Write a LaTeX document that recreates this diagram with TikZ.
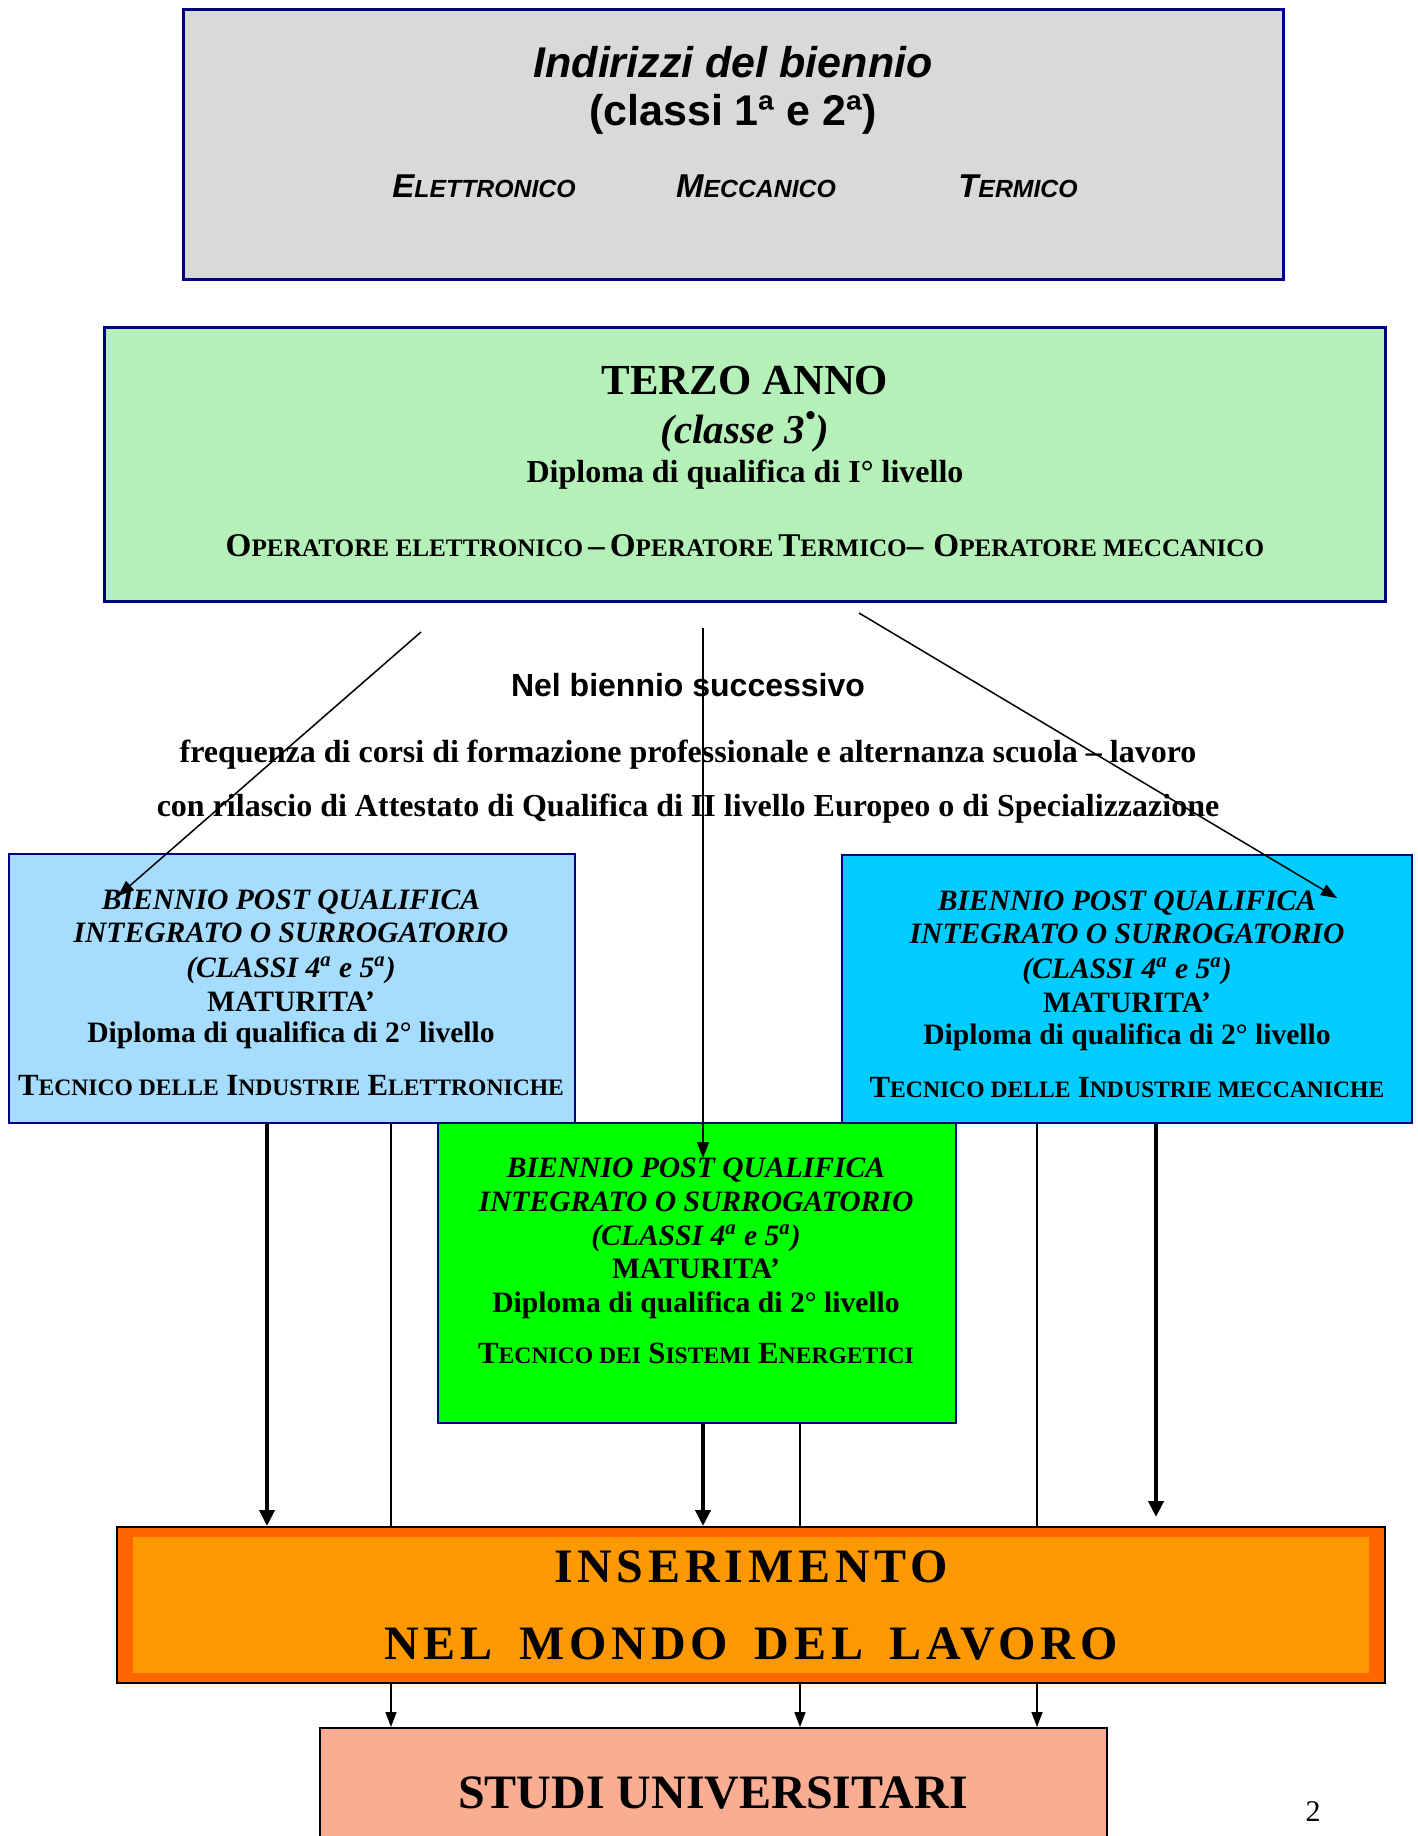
\documentclass[tikz,border=0pt]{standalone}
\usepackage{fontspec}
\setmainfont{Liberation Serif}
\newfontfamily\arialf{Liberation Sans}
\usetikzlibrary{arrows.meta,fit}
\definecolor{navy}{RGB}{0,0,128}
\definecolor{grayfill}{RGB}{217,217,217}
\definecolor{terzofill}{RGB}{181,240,185}
\definecolor{lbfill}{RGB}{166,221,255}
\definecolor{rbfill}{RGB}{0,204,255}
\definecolor{cbfill}{RGB}{0,255,0}
\definecolor{orout}{RGB}{255,102,0}
\definecolor{orin}{RGB}{252,153,0}
\definecolor{salmonf}{RGB}{251,173,145}
\newcommand\fs[1]{\fontsize{#1}{#1}\selectfont}
\newcommand\scB[1]{{\fs{\scbigsz}#1}}
\newcommand\scS[1]{{\fs{\scsmlsz}#1}}
\def\scbigsz{15pt}
\def\scsmlsz{11.5pt}
\begin{document}
\begin{tikzpicture}[x=0.5pt,y=-0.5pt,
  box/.style={draw=navy, line width=1pt, inner sep=0pt},
  txt/.style={anchor=base, inner sep=0pt},
  boxtxt/.style={txt, font=\fs{14.8pt}\bfseries},
  boxit/.style={txt, font=\fs{14.8pt}\bfseries\itshape},
  thickarrow/.style={line width=2.2pt, -{Triangle[length=8pt,width=7.5pt]}},
  thinarrow/.style={line width=0.75pt, -{Triangle[length=7.5pt,width=5.5pt]}},
  diagarrow/.style={line width=0.75pt, -{Triangle[length=8pt,width=6pt]}}]
\path[use as bounding box] (0,0) rectangle (1418,1836);
\clip (0,0) rectangle (1418,1836);

% boxes
\node[box, line width=1.5pt, fill=grayfill, fit={(183,9)(1283,279)}] (top) {};
\node[box, line width=1.5pt, fill=terzofill, fit={(104,327)(1385,601)}] (terzo) {};
\node[box, fill=lbfill, fit={(9,854)(575,1123)}] (lbox) {};
\node[box, fill=rbfill, fit={(842,855)(1412,1123)}] (rbox) {};
\node[box, fill=cbfill, fit={(438,1123)(956,1423)}] (cbox) {};
\node[draw=black, line width=1pt, fill=salmonf, inner sep=0pt, fit={(320,1728)(1107,1900)}] (studi) {};

% top texts
\node[txt, font=\arialf\fs{21.5pt}\bfseries\itshape] (t1) at (733,77) {Indirizzi del biennio};
\node[txt, font=\arialf\fs{21.5pt}\bfseries] (t2) at (733,125) {(classi 1ª e 2ª)};
\def\scbigsz{16.5pt}\def\scsmlsz{12.4pt}
\node[txt, font=\arialf\bfseries\itshape] (el) at (484,197) {\scB{E}\scS{LETTRONICO}};
\node[txt, font=\arialf\bfseries\itshape] (me) at (756,197) {\scB{M}\scS{ECCANICO}};
\node[txt, font=\arialf\bfseries\itshape] (te) at (1018,197) {\scB{T}\scS{ERMICO}};

% terzo texts
\node[txt, font=\fs{21.4pt}\bfseries] (ta) at (745,394) {TERZO ANNO};
\node[txt, font=\fs{20.5pt}\bfseries\itshape] (tc) at (745,443) {(classe 3\raisebox{0.42em}{\fs{15pt}•})};
\node[txt, font=\fs{16pt}\bfseries] (td) at (745,482) {Diploma di qualifica di I° livello};
\def\scbigsz{16.6pt}\def\scsmlsz{12.6pt}
\node[txt, font=\bfseries] (top2) at (745,556) {\scB{O}\scS{PERATORE ELETTRONICO} \scB{–} \scB{O}\scS{PERATORE} \scB{T}\scS{ERMICO}\scB{–}\ \ \scB{O}\scS{PERATORE MECCANICO}};

% middle texts
\node[txt, font=\arialf\fs{16pt}\bfseries] (m1) at (688,696) {Nel biennio successivo};
\node[txt, font=\fs{16pt}\bfseries] (m2) at (688,762) {frequenza di corsi di formazione professionale e alternanza scuola – lavoro};
\node[txt, font=\fs{16pt}\bfseries] (m3) at (688,816) {con rilascio di Attestato di Qualifica di II livello Europeo o di Specializzazione};

% left box texts
\def\scbigsz{15.4pt}\def\scsmlsz{11.8pt}
\node[boxit] (l1) at (291,909) {BIENNIO POST QUALIFICA};
\node[boxit] (l2) at (291,942) {INTEGRATO O SURROGATORIO};
\node[boxit] (l3) at (291,977) {(CLASSI 4\textsuperscript{a} e 5\textsuperscript{a})};
\node[boxtxt] (l4) at (291,1011) {MATURITA’};
\node[boxtxt] (l5) at (291,1042) {Diploma di qualifica di 2° livello};
\node[boxtxt] (l6) at (291,1095) {\scB{T}\scS{ECNICO DELLE} \scB{I}\scS{NDUSTRIE} \scB{E}\scS{LETTRONICHE}};

% right box texts
\node[boxit] (r1) at (1127,910) {BIENNIO POST QUALIFICA};
\node[boxit] (r2) at (1127,943) {INTEGRATO O SURROGATORIO};
\node[boxit] (r3) at (1127,978) {(CLASSI 4\textsuperscript{a} e 5\textsuperscript{a})};
\node[boxtxt] (r4) at (1127,1012) {MATURITA’};
\node[boxtxt] (r5) at (1127,1044) {Diploma di qualifica di 2° livello};
\node[boxtxt] (r6) at (1127,1097) {\scB{T}\scS{ECNICO DELLE} \scB{I}\scS{NDUSTRIE MECCANICHE}};

% center box texts
\node[boxit] (c1) at (696,1177) {BIENNIO POST QUALIFICA};
\node[boxit] (c2) at (696,1211) {INTEGRATO O SURROGATORIO};
\node[boxit] (c3) at (696,1245) {(CLASSI 4\textsuperscript{a} e 5\textsuperscript{a})};
\node[boxtxt] (c4) at (696,1278) {MATURITA’};
\node[boxtxt] (c5) at (696,1312) {Diploma di qualifica di 2° livello};
\node[boxtxt] (c6) at (696,1363) {\scB{T}\scS{ECNICO DEI} \scB{S}\scS{ISTEMI} \scB{E}\scS{NERGETICI}};

% arrow coordinates
\coordinate (dl0) at (421,632);
\coordinate (dl1) at (118,896);
\coordinate (dm0) at (703,628);
\coordinate (dm1) at (703,1158);
\coordinate (dr0) at (859,613);
\coordinate (dr1) at (1337,898);
\draw[diagarrow] (dl0) -- (dl1);
\draw[diagarrow] (dm0) -- (dm1);
\draw[diagarrow] (dr0) -- (dr1);

% thin lines passing behind the work box
\draw[thinarrow] (lbox.south -| 391,0) -- (studi.north -| 391,0);
\draw[thinarrow] (cbox.south -| 800,0) -- (studi.north -| 800,0);
\draw[thinarrow] (rbox.south -| 1037,0) -- (studi.north -| 1037,0);

% work box
\node[draw=black, line width=1pt, fill=orout, inner sep=0pt, fit={(117,1527)(1385,1683)}] (work) {};
\node[fill=orin, inner sep=0pt, fit={(133,1537)(1369,1673)}] (workin) {};

% thick arrows
\draw[thickarrow] (lbox.south -| 267,0) -- (work.north -| 267,0);
\draw[thickarrow] (cbox.south -| 703,0) -- (work.north -| 703,0);
\coordinate (rend) at (1156,1517);
\draw[thickarrow] (rbox.south -| 1156,0) -- (rend);

\node[txt, font=\fs{24pt}\bfseries\addfontfeature{LetterSpace=10}] (w1) at (751,1582) {INSERIMENTO};
\node[txt, font=\fs{24pt}\bfseries\addfontfeature{LetterSpace=10}] (w2) at (751,1659) {NEL\hspace{5pt} MONDO\hspace{5pt} DEL\hspace{5pt} LAVORO};
\node[txt, font=\fs{24pt}\bfseries] (su) at (713,1808) {STUDI UNIVERSITARI};
\node[txt, font=\fs{15pt}] (pg) at (1313,1821) {2};
\end{tikzpicture}
\end{document}
